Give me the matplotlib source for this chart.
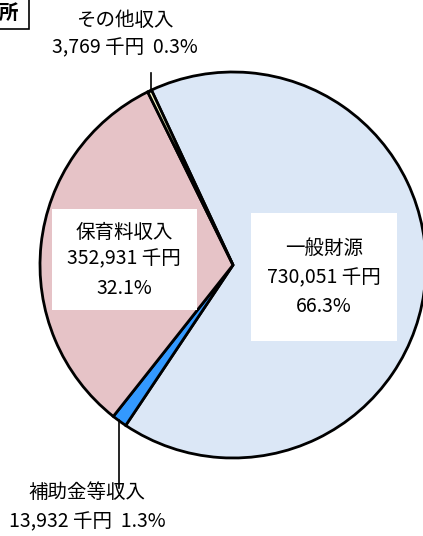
import matplotlib.pyplot as plt

plt.rcParams['font.family'] = ['Noto Sans CJK JP', 'DejaVu Sans']

# data
labels = ['一般財源', '補助金等収入', '保育料収入', 'その他収入']
values = [730051, 13932, 352931, 3769]
shares = [66.3, 1.3, 32.1, 0.3]
colors = ['#dbe7f6', '#3399ff', '#e6c3c7', '#ffffcc']

fig = plt.figure(figsize=(4.23, 5.36), dpi=100)
ax = fig.add_axes([0, 0, 1, 1])

ax.pie(values, colors=colors, startangle=115, counterclock=False,
       center=(233, 271), radius=193,
       wedgeprops={'edgecolor': 'black', 'linewidth': 2})
ax.set_xlim(0, 423)
ax.set_ylim(0, 536)
ax.set_aspect('equal')
ax.axis('off')

fs = 14

# label boxes inside the pie
ax.add_patch(plt.Rectangle((251, 536 - 341), 146, 128, facecolor='white', edgecolor='none', zorder=3))
ax.text(324, 536 - 248, labels[0], ha='center', va='center', fontsize=fs, zorder=4)
ax.text(324, 536 - 278, f'{values[0]:,} 千円', ha='center', va='center', fontsize=fs, zorder=4)
ax.text(324, 536 - 306, f'{shares[0]}%', ha='center', va='center', fontsize=fs, zorder=4)

ax.add_patch(plt.Rectangle((52, 536 - 310), 145, 101, facecolor='white', edgecolor='none', zorder=3))
ax.text(124, 536 - 232, labels[2], ha='center', va='center', fontsize=fs, zorder=4)
ax.text(124, 536 - 259, f'{values[2]:,} 千円', ha='center', va='center', fontsize=fs, zorder=4)
ax.text(124, 536 - 288, f'{shares[2]}%', ha='center', va='center', fontsize=fs, zorder=4)

# outside labels with leader lines
ax.plot([151, 151], [536 - 73, 536 - 92], color='black', lw=1.2, zorder=5)
ax.text(125, 536 - 20, labels[3], ha='center', va='center', fontsize=fs)
ax.text(125, 536 - 48, f'{values[3]:,} 千円  {shares[3]}%', ha='center', va='center', fontsize=fs)

ax.plot([119, 119], [536 - 420, 536 - 488], color='black', lw=1.2, zorder=5)
ax.text(87, 536 - 493, labels[1], ha='center', va='center', fontsize=fs)
ax.text(87, 536 - 522, f'{values[1]:,} 千円  {shares[1]}%', ha='center', va='center', fontsize=fs)

# cropped title box at top-left
ax.add_patch(plt.Rectangle((-10, 536 - 29), 39, 40, facecolor='white', edgecolor='black', lw=1.2, clip_on=False))
ax.text(18, 536 - 13, '所', ha='right', va='center', fontsize=14, fontweight='bold')

fig.savefig('out.png', dpi=100)
